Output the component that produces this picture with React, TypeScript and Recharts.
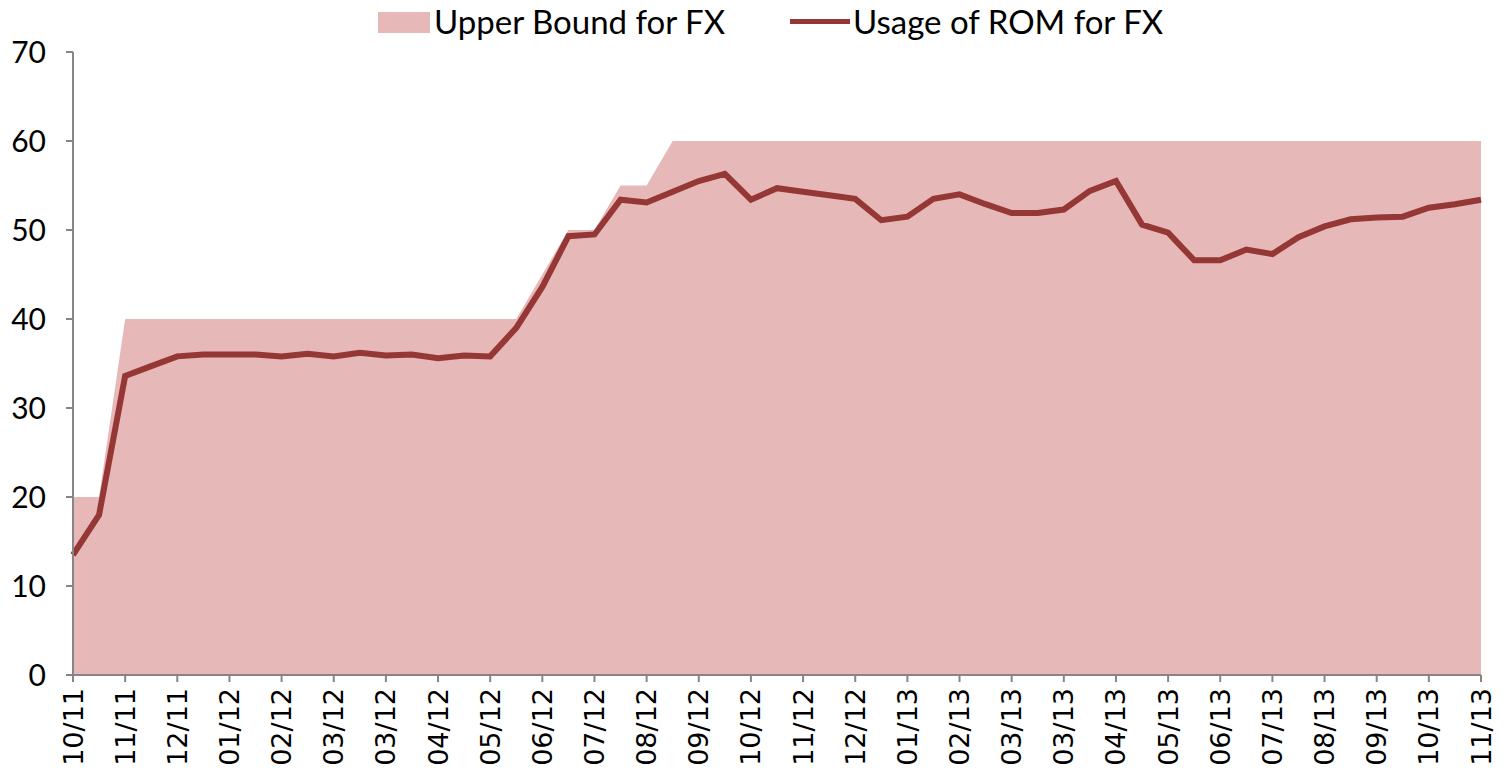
import { ComposedChart, Area, Line, XAxis, YAxis } from "recharts";

// biweekly observations, labels every 4 weeks
const tickLabels = [
  "10/11", "11/11", "12/11", "01/12", "02/12", "03/12", "03/12", "04/12", "05/12", "06/12",
  "07/12", "08/12", "09/12", "10/12", "11/12", "12/12", "01/13", "02/13", "03/13", "03/13",
  "04/13", "05/13", "06/13", "07/13", "08/13", "09/13", "10/13", "11/13",
];

const upperBound = [
  20, 20, 40, 40, 40, 40, 40, 40, 40, 40, 40, 40, 40, 40, 40, 40, 40, 40, 45, 50,
  50, 55, 55, 60, 60, 60, 60, 60, 60, 60, 60, 60, 60, 60, 60, 60, 60, 60, 60, 60,
  60, 60, 60, 60, 60, 60, 60, 60, 60, 60, 60, 60, 60, 60, 60,
];

const romUsage = [
  13.5, 18.0, 33.6, 34.7, 35.8, 36.0, 36.0, 36.0, 35.8, 36.1, 35.8, 36.2, 35.9, 36.0, 35.6, 35.9, 35.8, 39.0, 43.6, 49.3,
  49.5, 53.4, 53.1, 54.3, 55.5, 56.3, 53.4, 54.7, 54.3, 53.9, 53.5, 51.1, 51.5, 53.5, 54.0, 52.9, 51.9, 51.9, 52.3, 54.4,
  55.5, 50.6, 49.7, 46.6, 46.6, 47.8, 47.3, 49.2, 50.4, 51.2, 51.4, 51.5, 52.5, 52.9, 53.4,
];

const yTicks = [0, 10, 20, 30, 40, 50, 60, 70];

const rows = romUsage.map((v, i) => ({ idx: i, upper: upperBound[i], usage: v }));
const xTicks = tickLabels.map((_, i) => i * 2);

const AXIS = "#868686";
const FILL = "#E6B8B7";
const LINE = "#953735";

function DateTick({ x, y, payload }: any) {
  const ty = y + 4;
  return (
    <text
      x={x}
      y={ty}
      transform={`rotate(-90 ${x} ${ty})`}
      textAnchor="end"
      dominantBaseline="central"
      style={{ fontFamily: "DejaVu Sans", fontSize: 27 }}
      fill="#000"
    >
      {tickLabels[payload.value / 2]}
    </text>
  );
}

export default function App() {
  return (
    <div style={{ position: "absolute", left: 0, top: 0, width: 1505, height: 776, background: "#fff" }}>
      <div style={{ position: "absolute", top: 0, left: 0, width: 1505, height: 45, fontFamily: "Lato", fontSize: 33 }}>
        <div style={{ position: "absolute", left: 378, top: 12, width: 52, height: 21, background: FILL }} />
        <span style={{ position: "absolute", left: 434, top: 0, lineHeight: "42px" }}>Upper Bound for FX</span>
        <div style={{ position: "absolute", left: 790, top: 19, width: 60, height: 5, background: LINE }} />
        <span style={{ position: "absolute", left: 853, top: 0, lineHeight: "42px" }}>Usage of ROM for FX</span>
      </div>
      <ComposedChart
        width={1505}
        height={776}
        data={rows}
        margin={{ top: 52, right: 24, bottom: 0, left: 0 }}
      >
        <XAxis
          dataKey="idx"
          type="number"
          domain={[0, 54]}
          ticks={xTicks}
          interval={0}
          height={101}
          tickSize={7}
          stroke={AXIS}
          strokeWidth={2}
          tick={<DateTick />}
        />
        <YAxis
          domain={[0, 70]}
          ticks={yTicks}
          width={73}
          tickSize={7}
          tickMargin={20}
          stroke={AXIS}
          strokeWidth={2}
          tick={{ fill: "#000", fontSize: 30, fontFamily: "Lato" }}
        />
        <Area
          dataKey="upper"
          type="linear"
          fill={FILL}
          fillOpacity={1}
          stroke="none"
          isAnimationActive={false}
        />
        <Line
          dataKey="usage"
          type="linear"
          stroke={LINE}
          strokeWidth={6}
          dot={false}
          isAnimationActive={false}
        />
      </ComposedChart>
    </div>
  );
}
